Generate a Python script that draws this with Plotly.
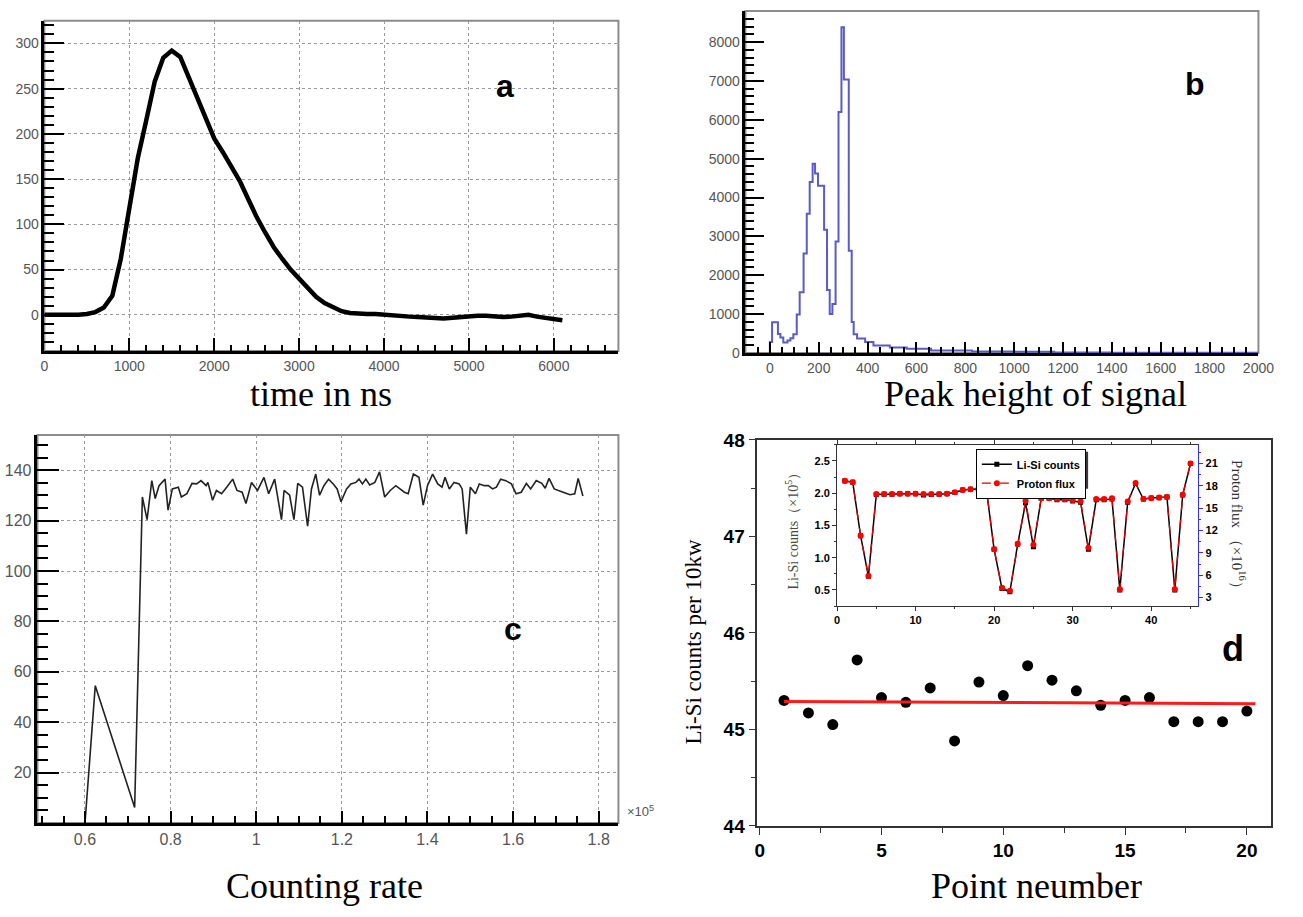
import numpy as np
import plotly.graph_objects as go

W, H = 1303, 917

# ---------------- data ----------------
# (a) digitised detector pulse, sampled every 100 ns
t_ns = list(range(0, 6200, 100))
pulse = [0, 0, 0, -1, 0, 1, 3, 8, 21, 62,
         118, 173, 215, 258, 284, 292, 285, 262, 240, 215,
         195, 180, 163, 148, 128, 108, 91, 75, 62, 50,
         40, 30, 20, 13, 8, 4, 2, 1, 1, 1,
         0, -1, -1, -2, -2.5, -3.5, -3.5, -4, -3, -2,
         -2, -1, -1, -2, -2.5, -2, -1, 0, -2, -3.5,
         -4.5, -6]

# (b) pulse-height spectrum: bin edges and counts
ph_edges = [0, 9, 33, 43, 55, 72, 84, 96, 110, 122, 138, 151, 163, 175, 185,
            197, 222, 234, 245, 256, 269, 281, 293, 303, 323, 335, 343, 357,
            390, 424, 491, 560, 660, 828, 1000, 1164, 1400, 2000]
ph_counts = [280, 790, 490, 400, 270, 320, 380, 480, 990, 1560, 2560, 3580,
             4400, 4870, 4620, 4300, 3170, 1620, 1000, 1260, 2870, 6200, 8380,
             7040, 2630, 800, 480, 370, 280, 190, 140, 110, 65, 40, 30, 15, 5]

# (c) counts versus counting rate (x in units of 1e5)
rate = [0.600, 0.624, 0.716, 0.734, 0.745, 0.756, 0.764, 0.773, 0.787, 0.794,
        0.804, 0.818, 0.825, 0.838, 0.850, 0.861, 0.871, 0.883, 0.887, 0.898,
        0.907, 0.919, 0.931, 0.945, 0.955, 0.967, 0.976, 0.989, 1.003, 1.018,
        1.029, 1.043, 1.059, 1.065, 1.078, 1.088, 1.097, 1.108, 1.120, 1.129,
        1.139, 1.148, 1.158, 1.169, 1.180, 1.189, 1.198, 1.211, 1.221, 1.233,
        1.240, 1.248, 1.256, 1.265, 1.277, 1.288, 1.300, 1.313, 1.326, 1.336,
        1.346, 1.355, 1.367, 1.380, 1.390, 1.400, 1.412, 1.424, 1.434, 1.441,
        1.451, 1.462, 1.474, 1.481, 1.491, 1.500, 1.512, 1.521, 1.533, 1.542,
        1.552, 1.561, 1.571, 1.583, 1.596, 1.607, 1.619, 1.631, 1.641, 1.654,
        1.667, 1.675, 1.684, 1.696, 1.708, 1.720, 1.733, 1.744, 1.752, 1.763]
rate_counts = [0, 54.5, 6.1, 129.4, 120.4, 135.9, 128.8, 133.9, 136.5, 124.2,
               132.6, 133.3, 129.4, 130.7, 134.8, 134.6, 135.9, 133.9, 135.2, 128.1,
               132.0, 130.7, 133.3, 136.5, 132.0, 131.3, 126.8, 135.2, 132.0, 137.2,
               130.7, 136.5, 120.4, 132.0, 130.1, 120.4, 134.8, 133.3, 117.8, 132.6,
               138.5, 130.1, 133.9, 136.5, 134.6, 132.6, 127.5, 132.6, 134.6, 135.2,
               136.5, 134.6, 136.5, 134.2, 135.2, 139.4, 129.4, 132.0, 133.9, 132.6,
               131.3, 130.7, 138.5, 137.2, 126.2, 133.9, 138.5, 134.6, 133.3, 137.2,
               132.6, 135.2, 134.6, 132.6, 114.6, 133.3, 130.7, 134.6, 133.9, 133.9,
               132.6, 133.3, 136.5, 135.9, 134.6, 130.7, 131.3, 134.8, 132.6, 135.9,
               134.8, 132.9, 136.8, 132.6, 132.0, 131.1, 130.3, 130.7, 136.8, 129.8]

# (d) Li-Si counts per 10 kW for each measurement point
point_no = list(range(1, 21))
lisi_per_10kw = [45.30, 45.17, 45.05, 45.72, 45.33, 45.28, 45.43, 44.88, 45.49, 45.35,
                 45.66, 45.51, 45.40, 45.25, 45.30, 45.33, 45.08, 45.08, 45.08, 45.19]
# straight-line fit drawn through the points (end points of the fitted line)
fit_x = [1.0, 20.35]
fit_y = [45.29, 45.265]

# (d, inset) Li-Si counts (x1e5) and proton flux (x1e16) per run
run_no = list(range(1, 46))
lisi_counts = [2.19, 2.17, 1.34, 0.71, 1.98, 1.985, 1.985, 1.99, 1.99, 1.99,
               1.97, 1.98, 1.985, 1.99, 2.01, 2.05, 2.06, 2.06, 2.07, 1.13,
               0.52, 0.47, 1.21, 1.85, 1.17, 1.92, 1.92, 1.90, 1.90, 1.88,
               1.86, 1.13, 1.90, 1.90, 1.91, 0.50, 1.86, 2.15, 1.91, 1.925,
               1.93, 1.94, 0.50, 1.97, 2.46]
proton_flux = [18.7, 18.5, 11.3, 5.9, 16.9, 16.9, 16.9, 16.95, 16.95, 16.95,
               16.9, 16.9, 16.9, 16.95, 17.15, 17.45, 17.55, 17.55, 17.65, 9.5,
               4.3, 3.9, 10.2, 16.0, 10.1, 16.35, 16.35, 16.25, 16.25, 16.1,
               15.95, 9.7, 16.25, 16.25, 16.35, 4.1, 15.9, 18.4, 16.25, 16.35,
               16.45, 16.5, 4.1, 16.8, 21.0]

# ---------------- helpers ----------------
SANS = "Liberation Sans, Arial, sans-serif"
SERIF = "Liberation Serif, Times New Roman, serif"
GRAY_TXT = "#555555"


def dx(l, r):
    return [l / W, r / W]


def dy(t, b):
    return [1 - b / H, 1 - t / H]


def px(x):
    return x / W


def py(y):
    return 1 - y / H


fig = go.Figure()

# (a) pulse
fig.add_trace(go.Scatter(x=t_ns, y=pulse, mode="lines",
                         line=dict(color="black", width=4.5),
                         xaxis="x", yaxis="y", showlegend=False))

# (b) histogram as a step line
hx = [ph_edges[0]] + ph_edges
hy = [0] + ph_counts + [ph_counts[-1]]
fig.add_trace(go.Scatter(x=hx, y=hy, mode="lines", line_shape="hv",
                         line=dict(color="#5a5ac8", width=2),
                         xaxis="x2", yaxis="y2", showlegend=False))

# (c) counts vs rate
fig.add_trace(go.Scatter(x=rate, y=rate_counts, mode="lines",
                         line=dict(color="#222222", width=1.6),
                         xaxis="x3", yaxis="y3", showlegend=False))

# (d) points and the fitted line
fig.add_trace(go.Scatter(x=point_no, y=lisi_per_10kw, mode="markers",
                         marker=dict(color="black", size=11),
                         xaxis="x4", yaxis="y4", showlegend=False))
fig.add_trace(go.Scatter(x=fit_x, y=fit_y, mode="lines",
                         line=dict(color="#ff1a1a", width=3),
                         xaxis="x4", yaxis="y4", showlegend=False))

# (d) inset
fig.add_trace(go.Scatter(x=run_no, y=lisi_counts, mode="lines+markers",
                         name="Li-Si counts",
                         line=dict(color="black", width=1.5),
                         marker=dict(symbol="square", size=5, color="black"),
                         xaxis="x5", yaxis="y5"))
fig.add_trace(go.Scatter(x=run_no, y=proton_flux, mode="lines+markers",
                         name="Proton flux",
                         line=dict(color="#e00000", width=1.3, dash="dash"),
                         marker=dict(symbol="circle", size=6, color="#ff0000"),
                         xaxis="x5", yaxis="y6"))

# ---------------- axes ----------------
root_tick = dict(family=SANS, size=14, color=GRAY_TXT)
grid = dict(showgrid=True, gridcolor="#9a9a9a", griddash="dot", gridwidth=1)


def root_axis(**kw):
    base = dict(showline=True, linecolor="black", linewidth=2.5,
                ticks="inside", tickcolor="black", tickwidth=2,
                tickfont=root_tick, zeroline=False, showgrid=False)
    base.update(kw)
    return base


layout = dict(
    width=W, height=H, margin=dict(l=0, r=0, t=0, b=0),
    paper_bgcolor="white", plot_bgcolor="white",
    xaxis=root_axis(domain=dx(41, 624), anchor="y", range=[0, 6760],
                    dtick=1000, tick0=0, ticklen=13, **grid,
                    minor=dict(dtick=200, ticklen=6, ticks="inside",
                               tickcolor="black", showgrid=False)),
    yaxis=root_axis(domain=dy(11, 349), anchor="x", range=[-40, 325],
                    dtick=50, tick0=0, ticklen=20, **grid,
                    minor=dict(dtick=10, ticklen=10, ticks="inside",
                               tickcolor="black", showgrid=False)),
    xaxis2=root_axis(domain=dx(753, 1274), anchor="y2", range=[-100, 2000],
                     dtick=200, tick0=0, ticklen=11,
                     minor=dict(dtick=50, ticklen=6, ticks="inside",
                                tickcolor="black")),
    yaxis2=root_axis(domain=dy(1, 351), anchor="x2", range=[0, 8800],
                     dtick=1000, tick0=0, ticklen=19,
                     minor=dict(dtick=200, ticklen=9, ticks="inside",
                                tickcolor="black")),
    xaxis3=root_axis(domain=dx(34, 624), anchor="y3", range=[0.489, 1.846],
                     dtick=0.2, tick0=0.6, ticklen=12, **grid,
                     tickfont=dict(family=SANS, size=16, color=GRAY_TXT),
                     minor=dict(dtick=0.05, tick0=0.6, ticklen=7,
                                ticks="inside", tickcolor="black",
                                showgrid=False)),
    yaxis3=root_axis(domain=dy(435, 832), anchor="x3", range=[0, 154],
                     tickvals=[20, 40, 60, 80, 100, 120, 140], ticklen=22,
                     **grid,
                     tickfont=dict(family=SANS, size=16, color=GRAY_TXT),
                     minor=dict(dtick=5, tick0=0, ticklen=11, ticks="inside",
                                tickcolor="black", showgrid=False)),
    xaxis4=dict(domain=dx(765, 1287), anchor="y4", range=[-0.1, 21],
                dtick=5, tick0=0, showline=True, mirror=True,
                linecolor="#333333", linewidth=1.5, ticks="outside",
                ticklen=7, tickcolor="#333333", showgrid=False, zeroline=False,
                tickfont=dict(family=SANS, size=19, color="black",
                              weight="bold"),
                minor=dict(dtick=2.5, ticklen=5, ticks="outside",
                           tickcolor="#333333")),
    yaxis4=dict(domain=dy(440, 835), anchor="x4", range=[44, 48],
                dtick=1, showline=True, mirror=True,
                linecolor="#333333", linewidth=1.5, ticks="outside",
                ticklen=7, tickcolor="#333333", showgrid=False, zeroline=False,
                tickfont=dict(family=SANS, size=19, color="black",
                              weight="bold"),
                minor=dict(dtick=0.5, ticklen=5, ticks="outside",
                           tickcolor="#333333")),
    xaxis5=dict(domain=dx(846, 1213), anchor="y5", range=[0, 46],
                dtick=10, showline=True, mirror="ticks", linecolor="#333333",
                linewidth=1, ticks="outside", ticklen=4, tickcolor="#333333",
                showgrid=False, zeroline=False,
                tickfont=dict(family=SANS, size=11, color="black",
                              weight="bold"),
                minor=dict(dtick=5, ticklen=2, ticks="outside",
                           tickcolor="#333333")),
    yaxis5=dict(domain=dy(445, 610), anchor="x5", range=[0.25, 2.75],
                dtick=0.5, tick0=0.5, tickformat=".1f", showline=True,
                linecolor="#333333", linewidth=1, ticks="outside", ticklen=4,
                tickcolor="#333333", showgrid=False, zeroline=False,
                tickfont=dict(family=SANS, size=11, color="black",
                              weight="bold"),
                minor=dict(dtick=0.25, ticklen=2, ticks="outside",
                           tickcolor="#333333")),
    yaxis6=dict(overlaying="y5", side="right", anchor="x5",
                range=[1.85, 23.53], dtick=3, tick0=0, showline=True,
                linecolor="#3030ff", linewidth=1, ticks="outside", ticklen=4,
                tickcolor="#3030ff", showgrid=False, zeroline=False,
                tickfont=dict(family=SANS, size=11, color="black",
                              weight="bold"),
                minor=dict(dtick=1.5, ticklen=2, ticks="outside",
                           tickcolor="#3030ff")),
    legend=dict(x=px(987), y=py(449), xanchor="left", yanchor="top",
                bgcolor="white", bordercolor="black", borderwidth=1,
                font=dict(family=SANS, size=11, color="black", weight="bold"),
                tracegroupgap=0, itemwidth=30),
)
fig.update_layout(**layout)

# gray frames round the ROOT-style panels
for (l, t, r, b) in [(41, 11, 624, 349), (753, 1, 1274, 351), (34, 435, 624, 832)]:
    fig.add_shape(type="rect", xref="paper", yref="paper",
                  x0=px(l), x1=px(r), y0=py(b), y1=py(t),
                  line=dict(color="#8c8c8c", width=2), layer="below")

# drop shadow behind the inset legend (legend box is drawn on top of it)
fig.add_shape(type="rect", xref="paper", yref="paper",
              x0=px(990), x1=px(1101), y0=py(490), y1=py(452),
              line=dict(width=0), fillcolor="#3a3a3a", layer="above")

# ---------------- text ----------------
ann = []


def label(x, y, text, font, **kw):
    d = dict(x=px(x), y=py(y), xref="paper", yref="paper", text=text,
             showarrow=False, font=font, xanchor="center", yanchor="middle")
    d.update(kw)
    ann.append(d)


panel_font = dict(family=SANS, size=32, color="black", weight="bold")
label(509, 78, "a", panel_font)
label(1210, 76, "b", panel_font)
label(517, 633, "c", panel_font)
label(1248, 653, "d", dict(family=SANS, size=36, color="black", weight="bold"))

title_font = dict(family=SERIF, size=36, color="black")
label(322, 393, "time in ns", title_font)
label(1048, 393, "Peak height of signal", title_font)
label(325, 897, "Counting rate", title_font)
label(1049, 897, "Point neumber", title_font)

label(700, 647, "Li-Si counts per 10kw",
      dict(family=SERIF, size=23, color="black"), textangle=-90)
label(800, 530, "Li-Si counts（×10<sup>5</sup>）",
      dict(family=SERIF, size=14, color="#4a4a3a"), textangle=-90)
label(1254, 530, "Proton flux （×10<sup>16</sup>）",
      dict(family=SERIF, size=15, color="#333333"), textangle=90)
label(646, 820, "×10<sup>5</sup>", dict(family=SANS, size=13, color=GRAY_TXT))

fig.update_layout(annotations=ann)

fig.write_html("out.html")
